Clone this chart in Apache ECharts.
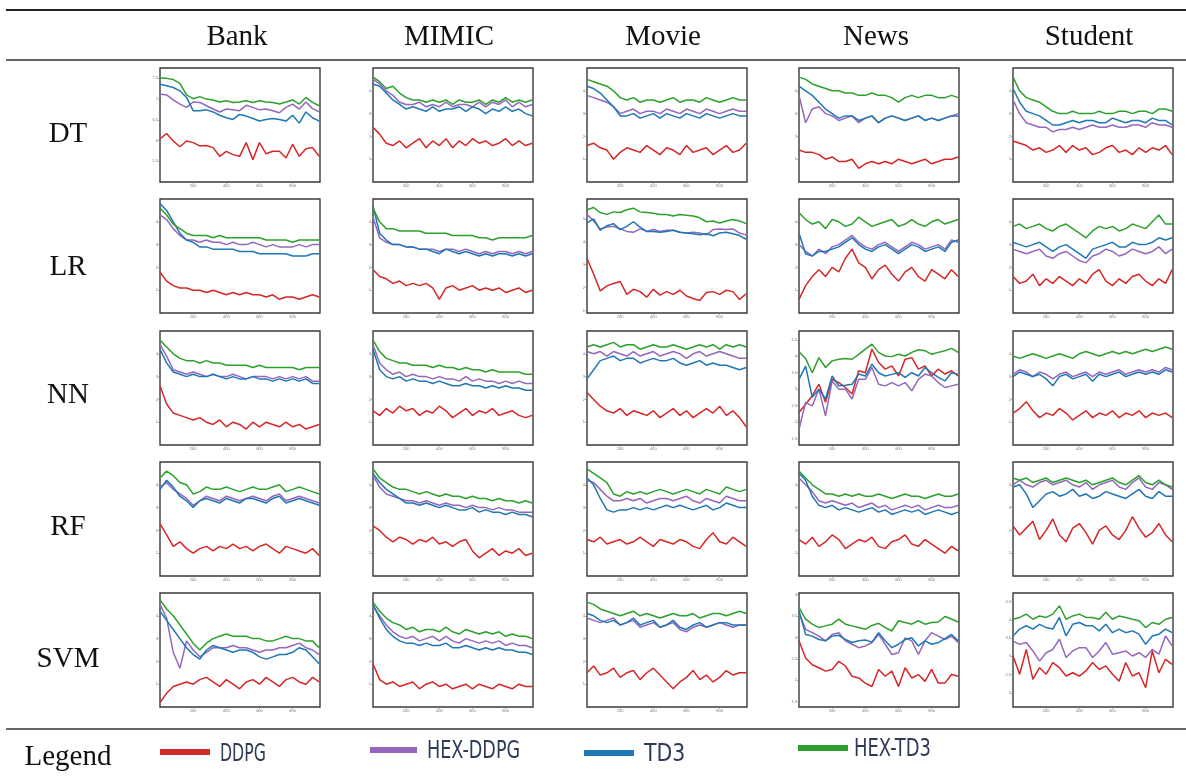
<!DOCTYPE html>
<html>
<head>
<meta charset="utf-8">
<script src="https://cdn.jsdelivr.net/npm/echarts@6/dist/echarts.min.js"></script>
<style>
html,body{margin:0;padding:0;background:#fff;}
#chart{width:1186px;height:776px;}
</style>
</head>
<body>
<div id="chart"></div>
<script>
// ---------- categories ----------
const datasets = ['Bank', 'MIMIC', 'Movie', 'News', 'Student'];
const models = ['DT', 'LR', 'NN', 'RF', 'SVM'];
const methods = ['DDPG', 'HEX-DDPG', 'TD3', 'HEX-TD3'];
const xSteps = [0,40,80,120,160,200,240,280,320,360,400,440,480,520,560,600,640,680,720,760,800,840,880,920,960];
const xTickInterval = 200;

// y-axis ranges per row: [min, max, interval|null] for each dataset column
const yAxisDT  = [[5.0,7.75,0.5],[0,5,1],[0,5,1],[0,5,1],[0,5,1]];
const yAxisLR  = [[0,5,1],[0,5,1],[0.9,5.86,null],[0,5,1],[0,5,1]];
const yAxisNN  = [[0,5,1],[0,5,1],[0,5,1],[1.3,4.77,null],[0,5,1]];
const yAxisRF  = [[0,5,1],[0,5,1],[0,5,1],[0,5,1],[0,5,1]];
const yAxisSVM = [[0,5,1],[0,5,1],[0,5,1],[1.37,4.04,null],[1.61,4.74,null]];

// ---------- DT ----------
const DT_Bank_DDPG    = [6.04,6.17,5.99,5.85,5.99,5.95,5.87,5.88,5.83,5.62,5.74,5.66,5.62,5.95,5.54,5.95,5.68,5.74,5.74,5.58,5.91,5.62,5.8,5.83,5.62];
const DT_Bank_HEXDDPG = [7.12,7.1,6.98,6.88,6.8,6.93,6.92,6.84,6.76,6.69,6.76,6.74,6.72,6.85,6.8,6.74,6.76,6.72,6.67,6.8,6.88,6.76,6.93,6.77,6.69];
const DT_Bank_TD3     = [7.36,7.32,7.28,7.2,7.04,6.72,6.72,6.74,6.69,6.61,6.55,6.51,6.63,6.59,6.53,6.47,6.51,6.53,6.51,6.47,6.61,6.42,6.69,6.55,6.47];
const DT_Bank_HEXTD3  = [7.51,7.5,7.47,7.38,7.1,7.01,7.06,7.0,6.98,6.93,6.96,6.92,6.93,6.96,6.92,6.96,6.93,6.92,6.88,6.93,6.98,6.88,7.04,6.92,6.84];

const DT_MIMIC_DDPG    = [2.4,2.1,1.7,1.6,1.8,1.5,1.7,1.9,1.5,1.8,1.6,1.9,1.5,1.8,1.6,1.9,1.7,1.8,1.6,1.7,1.9,1.6,1.8,1.6,1.7];
const DT_MIMIC_HEXDDPG = [4.5,4.3,4.0,3.8,3.5,3.4,3.4,3.5,3.3,3.4,3.3,3.5,3.3,3.4,3.4,3.3,3.5,3.3,3.5,3.4,3.6,3.3,3.5,3.3,3.4];
const DT_MIMIC_TD3     = [4.3,4.2,3.9,3.6,3.4,3.2,3.3,3.2,3.1,3.3,3.1,3.2,3.2,3.3,3.1,3.3,3.2,3.0,3.2,3.1,3.3,3.1,3.2,3.0,2.9];
const DT_MIMIC_HEXTD3  = [4.6,4.4,4.1,4.2,3.9,3.7,3.6,3.6,3.5,3.6,3.5,3.6,3.4,3.6,3.5,3.5,3.6,3.4,3.6,3.5,3.7,3.5,3.6,3.5,3.6];

const DT_Movie_DDPG    = [1.6,1.7,1.5,1.4,1.0,1.3,1.5,1.4,1.3,1.6,1.4,1.2,1.5,1.4,1.2,1.6,1.3,1.4,1.5,1.2,1.4,1.6,1.3,1.4,1.7];
const DT_Movie_HEXDDPG = [3.8,3.7,3.6,3.5,3.3,3.0,3.1,3.2,3.0,3.1,3.1,3.0,3.2,3.1,3.0,3.2,3.1,3.0,3.2,3.1,3.0,3.1,3.2,3.1,3.1];
const DT_Movie_TD3     = [4.2,4.1,3.9,3.6,3.3,2.9,2.9,3.0,2.8,2.9,3.0,2.8,3.0,2.9,2.8,3.0,2.9,2.8,3.0,2.9,2.8,2.9,3.0,2.9,2.9];
const DT_Movie_HEXTD3  = [4.5,4.4,4.3,4.2,4.0,3.7,3.6,3.7,3.5,3.6,3.6,3.5,3.6,3.7,3.5,3.6,3.6,3.5,3.7,3.6,3.5,3.6,3.7,3.6,3.6];

const DT_News_DDPG    = [1.4,1.3,1.3,1.2,1.0,1.1,0.9,0.9,1.0,0.6,0.8,0.9,0.8,0.9,0.8,1.0,0.9,0.8,0.9,1.0,0.8,0.9,1.0,1.0,1.1];
const DT_News_HEXDDPG = [3.8,2.6,3.2,3.3,3.0,2.9,2.7,2.8,2.9,2.6,2.8,2.9,2.6,2.8,2.9,2.8,2.7,2.8,2.9,2.7,2.8,2.7,2.8,2.9,3.0];
const DT_News_TD3     = [4.2,4.0,3.8,3.5,3.2,3.0,2.8,2.9,2.9,2.7,2.8,2.9,2.6,2.8,2.9,2.8,2.7,2.8,2.9,2.7,2.8,2.7,2.8,2.9,2.9];
const DT_News_HEXTD3  = [4.6,4.5,4.3,4.2,4.1,4.0,4.0,3.9,3.9,3.8,3.8,3.9,3.8,3.8,3.7,3.5,3.7,3.8,3.7,3.8,3.8,3.7,3.7,3.8,3.7];

const DT_Student_DDPG    = [1.8,1.7,1.6,1.4,1.5,1.3,1.4,1.6,1.3,1.6,1.4,1.5,1.2,1.3,1.5,1.6,1.3,1.4,1.2,1.5,1.3,1.5,1.4,1.6,1.2];
const DT_Student_HEXDDPG = [3.6,3.0,2.6,2.5,2.4,2.4,2.2,2.3,2.3,2.4,2.3,2.4,2.5,2.4,2.4,2.5,2.4,2.4,2.5,2.5,2.4,2.6,2.5,2.5,2.4];
const DT_Student_TD3     = [4.1,3.5,3.1,3.0,2.9,2.7,2.5,2.5,2.6,2.7,2.6,2.7,2.7,2.6,2.6,2.8,2.7,2.6,2.7,2.7,2.6,2.8,2.7,2.7,2.5];
const DT_Student_HEXTD3  = [4.6,4.0,3.7,3.6,3.5,3.3,3.1,3.0,3.0,3.1,3.0,3.0,3.0,3.1,3.0,3.0,3.1,3.1,3.0,3.1,3.1,3.0,3.2,3.2,3.1];

// ---------- LR ----------
const LR_Bank_DDPG    = [1.8,1.4,1.2,1.1,1.1,1.0,1.0,0.9,1.0,0.9,0.8,0.9,0.8,0.9,0.8,0.8,0.7,0.8,0.6,0.7,0.7,0.6,0.7,0.8,0.7];
const LR_Bank_HEXDDPG = [4.3,4.1,3.7,3.4,3.2,3.2,3.1,3.2,3.1,3.1,3.0,3.1,3.0,3.0,3.1,3.0,2.9,3.0,2.9,2.9,2.9,3.0,2.9,3.0,3.0];
const LR_Bank_TD3     = [4.8,4.5,4.0,3.5,3.2,3.1,2.9,2.9,2.8,2.8,2.8,2.8,2.7,2.7,2.7,2.6,2.6,2.6,2.6,2.6,2.5,2.5,2.5,2.6,2.6];
const LR_Bank_HEXTD3  = [4.6,4.3,3.9,3.7,3.5,3.4,3.4,3.4,3.3,3.4,3.3,3.3,3.3,3.3,3.3,3.3,3.2,3.2,3.2,3.2,3.1,3.2,3.2,3.2,3.2];

const LR_MIMIC_DDPG    = [1.9,1.6,1.5,1.3,1.4,1.2,1.3,1.2,1.3,1.1,0.6,1.1,1.2,1.0,1.1,1.2,1.0,1.1,1.0,1.1,0.9,1.0,1.1,0.9,1.0];
const LR_MIMIC_HEXDDPG = [4.2,3.3,3.1,3.0,3.0,2.9,2.9,2.8,2.8,2.8,2.7,2.8,2.8,2.7,2.8,2.7,2.6,2.7,2.6,2.7,2.7,2.6,2.7,2.6,2.7];
const LR_MIMIC_TD3     = [4.7,3.5,3.2,3.0,3.0,2.9,2.9,2.8,2.8,2.7,2.6,2.8,2.7,2.6,2.7,2.6,2.5,2.6,2.5,2.6,2.6,2.5,2.6,2.5,2.6];
const LR_MIMIC_HEXTD3  = [4.6,4.0,3.7,3.7,3.6,3.6,3.6,3.6,3.5,3.5,3.5,3.5,3.4,3.4,3.4,3.4,3.3,3.3,3.2,3.3,3.3,3.3,3.3,3.3,3.4];

const LR_Movie_DDPG    = [3.27,2.6,1.86,2.08,2.18,2.27,1.71,1.93,1.83,1.59,1.93,1.68,1.83,1.71,1.89,1.64,1.53,1.44,1.79,1.83,1.71,1.89,1.83,1.49,1.74];
const LR_Movie_HEXDDPG = [5.19,4.9,4.56,4.64,4.67,4.56,4.45,4.41,4.56,4.45,4.53,4.45,4.5,4.5,4.41,4.38,4.41,4.38,4.3,4.53,4.56,4.53,4.56,4.38,4.3];
const LR_Movie_TD3     = [4.82,5.0,4.5,4.7,4.79,4.53,4.67,4.87,4.64,4.45,4.45,4.41,4.45,4.5,4.41,4.38,4.35,4.3,4.35,4.26,4.38,4.41,4.35,4.27,4.11];
const LR_Movie_HEXTD3  = [5.39,5.49,5.27,5.19,5.3,5.27,5.39,5.46,5.3,5.27,5.24,5.19,5.19,5.12,5.19,5.15,5.12,5.04,4.87,4.9,4.82,4.9,4.97,4.9,4.79];

const LR_News_DDPG    = [0.6,1.2,1.6,1.9,1.6,2.0,1.8,2.4,2.8,2.2,2.0,1.5,1.9,2.1,1.7,1.4,1.8,2.0,1.6,1.4,1.9,1.7,1.5,1.9,1.6];
const LR_News_HEXDDPG = [3.0,2.7,2.5,2.8,2.6,2.9,3.0,3.2,3.4,3.1,2.9,2.8,3.0,3.1,2.9,2.7,2.9,3.1,3.0,2.8,2.9,3.0,2.8,3.2,3.1];
const LR_News_TD3     = [3.5,2.6,2.5,2.7,2.7,2.8,2.9,3.1,3.3,3.0,2.8,2.7,2.9,3.0,2.8,2.6,2.8,3.0,2.9,2.7,2.8,2.9,2.7,3.1,3.2];
const LR_News_HEXTD3  = [4.4,4.1,3.9,4.0,3.7,4.1,4.0,3.8,3.9,4.2,4.0,3.8,3.9,4.0,4.1,3.8,3.9,4.1,3.9,3.8,4.0,4.1,3.9,4.0,4.1];

const LR_Student_DDPG    = [1.6,1.3,1.4,1.7,1.2,1.5,1.3,1.6,1.4,1.2,1.5,1.3,1.7,1.9,1.4,1.2,1.5,1.3,1.6,1.7,1.4,1.2,1.5,1.3,1.9];
const LR_Student_HEXDDPG = [2.8,2.7,2.6,2.7,2.8,2.5,2.4,2.6,2.7,2.5,2.3,2.2,2.5,2.6,2.8,2.7,2.5,2.6,2.8,2.7,2.6,2.7,2.9,2.6,2.8];
const LR_Student_TD3     = [3.1,3.0,2.9,3.0,3.1,2.9,2.7,2.9,3.0,2.8,2.6,2.4,2.8,2.9,3.0,3.1,2.9,2.9,3.1,3.0,3.0,3.1,3.3,3.2,3.3];
const LR_Student_HEXTD3  = [3.8,3.9,3.7,3.8,3.9,3.7,3.6,3.8,3.9,3.7,3.5,3.3,3.6,3.8,3.7,3.8,3.6,3.7,3.9,3.8,3.7,4.0,4.3,3.9,3.9];

// ---------- NN ----------
const NN_Bank_DDPG    = [2.6,1.8,1.4,1.3,1.2,1.1,1.2,1.0,0.9,1.1,0.8,1.0,0.9,0.7,1.0,0.8,1.0,0.9,0.8,1.0,0.8,0.9,0.7,0.8,0.9];
const NN_Bank_HEXDDPG = [4.4,3.9,3.3,3.2,3.1,3.2,3.1,3.0,3.1,3.0,3.0,3.1,3.0,2.9,3.0,3.0,3.0,2.9,3.0,2.9,3.0,2.9,3.0,2.8,2.8];
const NN_Bank_TD3     = [4.2,3.6,3.2,3.1,3.0,3.1,3.0,3.0,3.1,3.0,2.9,3.0,2.9,2.9,3.0,2.9,2.9,2.8,2.9,2.8,2.9,2.8,2.9,2.7,2.7];
const NN_Bank_HEXTD3  = [4.6,4.3,4.0,3.8,3.7,3.7,3.6,3.7,3.6,3.6,3.5,3.5,3.5,3.5,3.4,3.5,3.4,3.4,3.4,3.4,3.4,3.3,3.4,3.4,3.4];

const NN_MIMIC_DDPG    = [1.5,1.3,1.6,1.4,1.7,1.5,1.6,1.3,1.5,1.4,1.7,1.5,1.2,1.4,1.6,1.3,1.5,1.4,1.6,1.3,1.4,1.5,1.3,1.2,1.3];
const NN_MIMIC_HEXDDPG = [4.4,3.6,3.3,3.1,3.2,3.0,3.1,3.0,3.0,2.9,3.0,2.9,2.9,2.8,3.0,2.8,2.9,2.8,2.8,2.7,2.8,2.7,2.8,2.7,2.7];
const NN_MIMIC_TD3     = [4.2,3.3,3.0,2.9,3.0,2.8,2.9,2.8,2.8,2.7,2.8,2.7,2.6,2.6,2.7,2.6,2.6,2.5,2.6,2.5,2.6,2.5,2.5,2.4,2.4];
const NN_MIMIC_HEXTD3  = [4.6,4.1,3.8,3.7,3.6,3.6,3.5,3.5,3.5,3.4,3.5,3.4,3.4,3.3,3.4,3.3,3.3,3.2,3.3,3.2,3.2,3.2,3.2,3.1,3.1];

const NN_Movie_DDPG    = [2.3,2.0,1.7,1.5,1.4,1.6,1.3,1.5,1.4,1.3,1.5,1.2,1.4,1.6,1.3,1.5,1.2,1.4,1.6,1.4,1.7,1.3,1.5,1.2,0.8];
const NN_Movie_HEXDDPG = [4.1,4.0,4.1,3.9,4.1,4.0,3.9,4.1,3.9,4.0,4.1,3.9,4.0,4.1,4.0,3.8,4.0,4.1,3.9,4.0,4.1,4.0,3.9,3.8,3.8];
const NN_Movie_TD3     = [2.9,3.3,3.7,3.8,3.9,3.7,3.8,3.8,3.6,3.7,3.8,3.7,3.7,3.8,3.6,3.5,3.6,3.7,3.5,3.6,3.5,3.5,3.4,3.3,3.4];
const NN_Movie_HEXTD3  = [4.3,4.4,4.3,4.4,4.5,4.3,4.4,4.4,4.2,4.3,4.4,4.3,4.3,4.4,4.3,4.2,4.3,4.4,4.3,4.4,4.2,4.4,4.3,4.4,4.3];

const NN_News_DDPG    = [2.29,2.54,2.8,3.15,2.6,3.3,3.2,3.05,2.85,3.56,3.5,4.22,3.81,3.61,3.71,3.4,3.91,3.96,3.61,3.71,3.4,3.61,3.46,3.56,3.4];
const NN_News_HEXDDPG = [1.78,2.6,2.49,3.0,2.19,3.25,3.0,3.0,2.7,3.3,3.3,3.66,3.15,3.1,3.2,3.1,3.2,2.95,3.3,3.46,3.4,3.2,3.05,3.1,3.15];
const NN_News_TD3     = [3.3,3.7,2.75,3.0,2.7,3.4,3.1,3.12,3.15,3.46,3.4,3.76,3.5,3.4,3.45,3.5,3.36,3.5,3.4,3.66,3.5,3.36,3.25,3.5,3.45];
const NN_News_HEXTD3  = [4.14,3.93,3.5,3.96,3.66,3.86,3.91,3.93,3.91,4.06,4.22,4.37,4.12,4.01,3.99,4.06,4.01,4.12,4.2,4.17,4.06,4.12,4.17,4.24,4.12];

const NN_Student_DDPG    = [1.4,1.6,1.9,1.5,1.2,1.4,1.3,1.6,1.4,1.1,1.3,1.5,1.2,1.4,1.3,1.5,1.2,1.4,1.3,1.5,1.2,1.4,1.3,1.4,1.2];
const NN_Student_HEXDDPG = [3.1,3.3,3.2,3.0,3.2,3.1,2.9,3.1,3.2,3.0,3.1,3.2,3.0,3.2,3.1,3.2,3.3,3.1,3.2,3.3,3.2,3.3,3.2,3.4,3.3];
const NN_Student_TD3     = [3.0,3.2,3.1,3.0,3.1,2.9,2.6,3.0,3.1,2.9,3.0,3.1,2.8,3.1,3.0,3.1,3.2,3.0,3.1,3.2,3.1,3.2,3.1,3.3,3.2];
const NN_Student_HEXTD3  = [3.9,3.8,3.9,4.0,3.9,3.8,3.9,4.0,3.9,3.8,4.0,4.1,4.0,3.9,4.0,4.1,4.0,4.1,4.0,4.1,4.2,4.1,4.2,4.3,4.2];

// ---------- RF ----------
const RF_Bank_DDPG    = [2.3,1.8,1.3,1.5,1.2,1.0,1.2,1.3,1.1,1.3,1.2,1.4,1.2,1.3,1.1,1.3,1.4,1.2,1.0,1.3,1.2,1.1,1.0,1.2,0.9];
const RF_Bank_HEXDDPG = [3.9,4.1,3.8,3.6,3.4,3.1,3.3,3.5,3.4,3.3,3.5,3.4,3.3,3.4,3.5,3.4,3.3,3.5,3.6,3.3,3.4,3.5,3.4,3.3,3.2];
const RF_Bank_TD3     = [3.8,4.2,3.9,3.5,3.3,3.0,3.3,3.4,3.3,3.2,3.4,3.3,3.2,3.4,3.4,3.3,3.2,3.4,3.5,3.2,3.3,3.4,3.3,3.2,3.1];
const RF_Bank_HEXTD3  = [4.3,4.6,4.4,4.1,4.0,3.6,3.7,3.9,3.8,3.8,3.9,3.8,3.7,3.8,3.9,3.8,3.8,3.9,4.0,3.7,3.8,3.9,3.8,3.7,3.6];

const RF_MIMIC_DDPG    = [2.2,2.0,1.7,1.5,1.7,1.6,1.4,1.6,1.5,1.7,1.4,1.5,1.3,1.5,1.6,1.1,0.8,1.0,1.2,0.9,1.1,1.0,1.2,0.9,1.0];
const RF_MIMIC_HEXDDPG = [4.4,3.9,3.6,3.5,3.4,3.3,3.3,3.2,3.3,3.2,3.1,3.2,3.1,3.1,3.0,3.1,3.0,3.0,2.9,3.0,2.9,2.9,2.8,2.8,2.8];
const RF_MIMIC_TD3     = [4.5,4.1,3.8,3.6,3.4,3.2,3.2,3.1,3.2,3.1,3.0,3.1,3.0,2.9,2.9,3.0,2.8,2.9,2.8,2.8,2.7,2.8,2.7,2.7,2.6];
const RF_MIMIC_HEXTD3  = [4.7,4.3,4.1,3.9,3.8,3.8,3.7,3.6,3.7,3.6,3.5,3.6,3.5,3.5,3.4,3.5,3.4,3.4,3.3,3.4,3.3,3.3,3.2,3.3,3.2];

const RF_Movie_DDPG    = [1.6,1.5,1.7,1.4,1.5,1.6,1.4,1.5,1.7,1.5,1.3,1.6,1.5,1.4,1.6,1.5,1.3,1.2,1.6,1.9,1.5,1.4,1.7,1.5,1.3];
const RF_Movie_HEXDDPG = [4.2,4.1,3.8,3.5,3.3,3.3,3.4,3.3,3.4,3.2,3.3,3.4,3.4,3.3,3.4,3.5,3.3,3.2,3.4,3.3,3.2,3.5,3.4,3.3,3.3];
const RF_Movie_TD3     = [4.3,4.0,3.4,2.9,2.8,2.9,2.9,3.0,2.9,3.0,2.9,3.0,3.1,3.0,3.1,3.0,2.9,3.0,3.1,2.9,3.0,3.2,3.1,3.0,3.0];
const RF_Movie_HEXTD3  = [4.7,4.5,4.3,4.1,3.6,3.5,3.7,3.6,3.7,3.6,3.7,3.8,3.7,3.6,3.7,3.8,3.7,3.6,3.8,3.7,3.6,3.9,3.8,3.7,3.8];

const RF_News_DDPG    = [1.6,1.4,1.7,1.3,1.5,1.8,1.6,1.2,1.4,1.6,1.5,1.7,1.3,1.2,1.5,1.6,1.8,1.4,1.3,1.6,1.4,1.2,1.0,1.3,1.1];
const RF_News_HEXDDPG = [4.3,4.0,3.7,3.3,3.2,3.3,3.2,3.1,3.2,3.0,3.1,3.2,3.0,3.1,2.9,3.0,3.1,3.0,3.1,2.9,3.0,3.1,3.0,3.0,3.1];
const RF_News_TD3     = [4.5,4.2,3.5,3.1,3.0,3.1,2.9,3.0,2.9,2.8,2.9,3.0,2.8,2.9,2.7,2.8,2.9,2.8,2.9,2.7,2.8,2.9,2.8,2.7,2.8];
const RF_News_HEXTD3  = [4.6,4.3,4.0,3.8,3.6,3.6,3.5,3.6,3.5,3.6,3.5,3.5,3.6,3.5,3.4,3.5,3.6,3.5,3.5,3.4,3.5,3.6,3.5,3.5,3.6];

const RF_Student_DDPG    = [2.2,1.8,2.1,2.4,1.6,2.0,2.5,1.8,1.5,2.1,2.3,1.9,1.4,2.0,2.2,1.8,1.6,2.0,2.6,2.1,1.7,1.9,2.3,1.8,1.5];
const RF_Student_HEXDDPG = [4.0,4.2,4.0,3.9,4.1,4.2,4.0,4.1,4.2,4.0,3.9,4.1,3.8,4.0,4.1,4.2,3.9,3.8,4.1,4.3,3.9,3.8,4.1,4.0,3.8];
const RF_Student_TD3     = [3.9,4.0,3.6,3.0,3.3,3.6,3.7,3.5,3.6,3.8,3.5,3.6,3.4,3.5,3.7,3.6,3.5,3.4,3.6,3.8,3.5,3.4,3.7,3.5,3.5];
const RF_Student_HEXTD3  = [4.3,4.2,4.3,4.1,4.2,4.3,4.1,4.2,4.3,4.2,4.1,4.2,4.0,4.1,4.2,4.3,4.1,4.0,4.2,4.4,4.1,4.0,4.2,4.0,3.9];

// ---------- SVM ----------
const SVM_Bank_DDPG    = [0.2,0.6,0.9,1.0,1.1,1.0,1.2,1.3,1.1,0.9,1.2,1.0,0.8,1.1,1.2,1.0,1.3,1.1,0.9,1.2,1.3,1.1,1.0,1.3,1.1];
const SVM_Bank_HEXDDPG = [4.5,3.9,2.4,1.7,2.9,2.5,2.2,2.4,2.6,2.6,2.6,2.7,2.6,2.6,2.5,2.4,2.5,2.5,2.6,2.6,2.7,2.8,2.6,2.5,2.3];
const SVM_Bank_TD3     = [4.2,3.8,3.4,3.0,2.6,2.3,2.1,2.5,2.7,2.6,2.5,2.4,2.5,2.5,2.4,2.2,2.1,2.2,2.3,2.3,2.4,2.6,2.5,2.2,1.9];
const SVM_Bank_HEXTD3  = [4.7,4.3,4.0,3.6,3.2,2.8,2.5,2.8,3.0,3.1,3.2,3.1,3.1,3.1,3.0,3.0,2.9,2.9,3.0,3.1,3.0,3.0,2.9,2.9,2.6];

const SVM_MIMIC_DDPG    = [1.9,1.2,1.0,1.1,0.9,1.0,1.1,0.8,1.0,1.1,0.9,1.0,0.8,0.9,1.0,0.8,1.0,0.9,0.8,1.0,0.9,0.8,1.0,0.9,0.9];
const SVM_MIMIC_HEXDDPG = [4.4,4.0,3.6,3.3,3.1,3.0,3.1,2.9,3.0,3.1,2.9,3.1,2.9,2.8,3.0,2.9,2.8,2.9,2.8,2.9,2.7,2.8,2.7,2.7,2.6];
const SVM_MIMIC_TD3     = [4.5,3.9,3.4,3.1,2.9,2.8,2.8,2.7,2.8,2.7,2.7,2.8,2.6,2.6,2.7,2.6,2.5,2.6,2.5,2.6,2.5,2.5,2.4,2.4,2.3];
const SVM_MIMIC_HEXTD3  = [4.6,4.2,3.9,3.7,3.6,3.4,3.5,3.3,3.4,3.4,3.3,3.5,3.3,3.2,3.4,3.3,3.2,3.3,3.2,3.3,3.1,3.2,3.1,3.1,3.0];

const SVM_Movie_DDPG    = [1.5,1.8,1.4,1.5,1.7,1.3,1.5,1.6,1.2,1.5,1.7,1.4,1.1,0.8,1.1,1.3,1.6,1.2,1.4,1.1,1.3,1.6,1.4,1.5,1.5];
const SVM_Movie_HEXDDPG = [3.9,3.8,3.7,3.8,3.9,3.6,3.7,3.8,3.5,3.6,3.7,3.5,3.6,3.7,3.4,3.3,3.5,3.6,3.5,3.6,3.7,3.6,3.5,3.6,3.6];
const SVM_Movie_TD3     = [4.1,4.0,3.8,3.7,3.8,3.6,3.7,3.9,3.6,3.7,3.8,3.5,3.6,3.8,3.5,3.4,3.6,3.7,3.5,3.6,3.7,3.7,3.6,3.6,3.6];
const SVM_Movie_HEXTD3  = [4.6,4.5,4.3,4.2,4.1,4.0,4.1,4.2,4.0,4.1,4.0,3.9,4.0,4.1,4.0,4.0,4.1,3.9,4.0,4.1,4.1,4.0,4.1,4.2,4.1];

const SVM_News_DDPG    = [2.92,2.52,2.36,2.29,2.21,2.25,2.44,2.33,2.09,2.05,1.93,1.85,2.25,2.09,2.21,1.85,2.29,2.05,2.13,1.97,2.25,1.93,1.93,2.13,2.09];
const SVM_News_HEXDDPG = [3.58,3.19,3.11,3.03,2.92,3.07,3.11,2.92,2.84,2.76,2.8,2.88,3.07,2.84,2.6,2.64,2.99,2.92,2.6,2.92,3.11,3.03,2.95,3.03,2.88];
const SVM_News_TD3     = [3.62,3.07,3.03,2.95,2.92,3.03,3.05,2.95,2.88,2.92,2.94,2.89,3.11,2.92,2.76,2.84,2.95,2.99,2.8,2.92,2.84,2.88,2.97,3.07,2.92];
const SVM_News_HEXTD3  = [3.7,3.43,3.31,3.23,3.27,3.31,3.43,3.31,3.27,3.23,3.19,3.28,3.33,3.23,3.15,3.39,3.35,3.31,3.39,3.31,3.35,3.36,3.49,3.43,3.36];

const SVM_Student_DDPG    = [3.01,2.51,3.19,2.37,2.69,2.51,2.83,2.69,2.46,2.55,2.46,2.6,2.83,2.64,2.74,2.51,2.32,2.83,2.46,2.55,2.14,3.15,2.55,2.92,2.78];
const SVM_Student_HEXDDPG = [3.42,3.33,3.38,3.15,2.87,3.1,3.19,3.47,2.97,3.15,3.24,3.24,2.97,3.15,3.38,3.06,3.1,3.15,3.01,3.1,2.97,3.19,3.06,3.56,3.29];
const SVM_Student_TD3     = [3.56,3.75,3.84,3.75,3.88,3.79,3.75,4.07,3.56,3.88,3.93,3.84,3.84,3.7,3.88,3.65,3.75,3.65,3.7,3.61,3.33,3.56,3.61,3.75,3.65];
const SVM_Student_HEXTD3  = [4.02,4.07,4.16,4.02,4.11,4.07,4.16,4.39,4.02,4.11,4.16,4.07,4.07,4.02,4.21,4.02,4.11,4.07,4.02,3.98,3.79,3.93,3.88,4.02,4.07];

// ---------- registry built from the arrays above ----------
const curves = {
  DT:  [[DT_Bank_DDPG,DT_Bank_HEXDDPG,DT_Bank_TD3,DT_Bank_HEXTD3],[DT_MIMIC_DDPG,DT_MIMIC_HEXDDPG,DT_MIMIC_TD3,DT_MIMIC_HEXTD3],[DT_Movie_DDPG,DT_Movie_HEXDDPG,DT_Movie_TD3,DT_Movie_HEXTD3],[DT_News_DDPG,DT_News_HEXDDPG,DT_News_TD3,DT_News_HEXTD3],[DT_Student_DDPG,DT_Student_HEXDDPG,DT_Student_TD3,DT_Student_HEXTD3]],
  LR:  [[LR_Bank_DDPG,LR_Bank_HEXDDPG,LR_Bank_TD3,LR_Bank_HEXTD3],[LR_MIMIC_DDPG,LR_MIMIC_HEXDDPG,LR_MIMIC_TD3,LR_MIMIC_HEXTD3],[LR_Movie_DDPG,LR_Movie_HEXDDPG,LR_Movie_TD3,LR_Movie_HEXTD3],[LR_News_DDPG,LR_News_HEXDDPG,LR_News_TD3,LR_News_HEXTD3],[LR_Student_DDPG,LR_Student_HEXDDPG,LR_Student_TD3,LR_Student_HEXTD3]],
  NN:  [[NN_Bank_DDPG,NN_Bank_HEXDDPG,NN_Bank_TD3,NN_Bank_HEXTD3],[NN_MIMIC_DDPG,NN_MIMIC_HEXDDPG,NN_MIMIC_TD3,NN_MIMIC_HEXTD3],[NN_Movie_DDPG,NN_Movie_HEXDDPG,NN_Movie_TD3,NN_Movie_HEXTD3],[NN_News_DDPG,NN_News_HEXDDPG,NN_News_TD3,NN_News_HEXTD3],[NN_Student_DDPG,NN_Student_HEXDDPG,NN_Student_TD3,NN_Student_HEXTD3]],
  RF:  [[RF_Bank_DDPG,RF_Bank_HEXDDPG,RF_Bank_TD3,RF_Bank_HEXTD3],[RF_MIMIC_DDPG,RF_MIMIC_HEXDDPG,RF_MIMIC_TD3,RF_MIMIC_HEXTD3],[RF_Movie_DDPG,RF_Movie_HEXDDPG,RF_Movie_TD3,RF_Movie_HEXTD3],[RF_News_DDPG,RF_News_HEXDDPG,RF_News_TD3,RF_News_HEXTD3],[RF_Student_DDPG,RF_Student_HEXDDPG,RF_Student_TD3,RF_Student_HEXTD3]],
  SVM: [[SVM_Bank_DDPG,SVM_Bank_HEXDDPG,SVM_Bank_TD3,SVM_Bank_HEXTD3],[SVM_MIMIC_DDPG,SVM_MIMIC_HEXDDPG,SVM_MIMIC_TD3,SVM_MIMIC_HEXTD3],[SVM_Movie_DDPG,SVM_Movie_HEXDDPG,SVM_Movie_TD3,SVM_Movie_HEXTD3],[SVM_News_DDPG,SVM_News_HEXDDPG,SVM_News_TD3,SVM_News_HEXTD3],[SVM_Student_DDPG,SVM_Student_HEXDDPG,SVM_Student_TD3,SVM_Student_HEXTD3]]
};
const yAxes = { DT: yAxisDT, LR: yAxisLR, NN: yAxisNN, RF: yAxisRF, SVM: yAxisSVM };

// ---------- layout & style ----------
const methodColors = ['#d62728', '#9467bd', '#1f77b4', '#2ca02c'];
const colLeft = [160, 373, 587, 799, 1013];
const rowTop = [68, 199, 331, 462, 593];
const cellW = 160, cellH = 114;
const colCenter = [237, 449, 663, 876, 1089];
const rowCenter = [134, 267, 395, 527, 659];
const swatchX = [160, 370, 584, 798];
const swatchY = [749, 747, 750, 745];
const swatchW = [50, 47, 50, 50];
const labelX = [220, 427, 644, 854];
const labelY = [754, 751, 754, 749];
const labelScaleX = [0.92, 1.03, 1.2, 1.05];
const serif = '"Liberation Serif", "DejaVu Serif", serif';
const narrow = '"DejaVu Sans Condensed", "DejaVu Sans", sans-serif';

const grids = [], xAxes = [], yAxesOpt = [], series = [];
let k = 0;
models.forEach((m, r) => {
  datasets.forEach((d, c) => {
    grids.push({ left: colLeft[c], top: rowTop[r], width: cellW, height: cellH,
      show: true, borderColor: '#3a3a3a', borderWidth: 1.4, backgroundColor: '#fff', containLabel: false });
    xAxes.push({ type: 'value', gridIndex: k, min: 0, max: 965, interval: xTickInterval,
      axisLine: { show: false }, splitLine: { show: false },
      axisTick: { show: true, length: 2, lineStyle: { color: '#777', width: 0.6 } },
      axisLabel: { fontSize: 4, color: '#777', margin: 2, showMinLabel: false, showMaxLabel: false } });
    const ya = yAxes[m][c];
    const yo = { type: 'value', gridIndex: k, min: ya[0], max: ya[1],
      axisLine: { show: false }, splitLine: { show: false },
      axisTick: { show: true, length: 2, lineStyle: { color: '#777', width: 0.6 } },
      axisLabel: { fontSize: 4, color: '#777', margin: 2, showMinLabel: false, showMaxLabel: false } };
    if (ya[2]) yo.interval = ya[2]; else yo.splitNumber = 5;
    yAxesOpt.push(yo);
    curves[m][c].forEach((arr, s) => {
      series.push({ type: 'line', name: methods[s], xAxisIndex: k, yAxisIndex: k,
        data: xSteps.map((x, j) => [x, arr[j]]), showSymbol: false, symbol: 'none',
        color: methodColors[s], lineStyle: { width: 1.5, color: methodColors[s] },
        animation: false, silent: true });
    });
    k++;
  });
});

const graphic = [];
// table rules
graphic.push({ type: 'line', shape: { x1: 6, y1: 10, x2: 1186, y2: 10 }, style: { stroke: '#222', lineWidth: 2 } });
graphic.push({ type: 'line', shape: { x1: 6, y1: 60, x2: 1186, y2: 60 }, style: { stroke: '#333', lineWidth: 1.3 } });
graphic.push({ type: 'line', shape: { x1: 6, y1: 729, x2: 1186, y2: 729 }, style: { stroke: '#333', lineWidth: 1.5 } });
datasets.forEach((d, c) => graphic.push({ type: 'text', x: colCenter[c], y: 37,
  style: { text: d, font: '29px ' + serif, fill: '#111', textAlign: 'center', textVerticalAlign: 'middle' } }));
models.forEach((m, r) => graphic.push({ type: 'text', x: 68, y: rowCenter[r],
  style: { text: m, font: '29px ' + serif, fill: '#111', textAlign: 'center', textVerticalAlign: 'middle' } }));
graphic.push({ type: 'text', x: 68, y: 757,
  style: { text: 'Legend', font: '29px ' + serif, fill: '#111', textAlign: 'center', textVerticalAlign: 'middle' } });
// legend row: colour swatch + label for each method
methods.forEach((m, i) => {
  graphic.push({ type: 'rect', shape: { x: swatchX[i], y: swatchY[i], width: swatchW[i], height: 6 },
    style: { fill: methodColors[i] } });
  graphic.push({ type: 'text', x: labelX[i], y: labelY[i], scaleX: labelScaleX[i], scaleY: 1.35,
    style: { text: m, x: 0, y: 0, font: '19px ' + narrow, fill: '#2d3b57', textAlign: 'left', textVerticalAlign: 'middle' } });
});

const chart = echarts.init(document.getElementById('chart'), null, { renderer: 'canvas' });
chart.setOption({ animation: false, backgroundColor: '#fff', grid: grids, xAxis: xAxes, yAxis: yAxesOpt,
  series: series, graphic: graphic });
</script>
</body>
</html>
